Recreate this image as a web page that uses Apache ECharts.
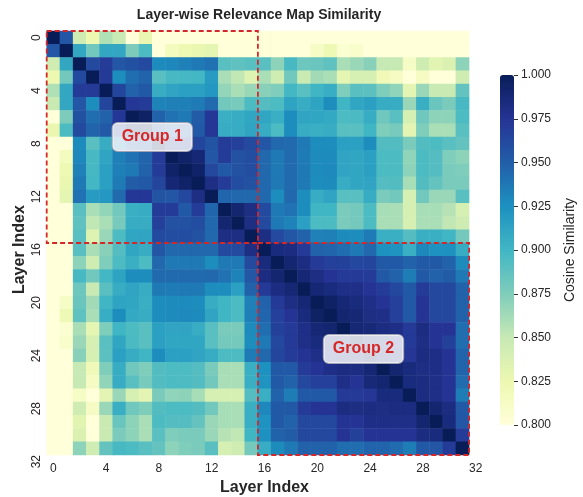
<!DOCTYPE html>
<html>
<head>
<meta charset="utf-8">
<title>Layer-wise Relevance Map Similarity</title>
<script src="https://cdn.jsdelivr.net/npm/echarts@6/dist/echarts.min.js"></script>
<style>
  html, body { margin: 0; padding: 0; background: #fff; }
  #main { width: 583px; height: 497px; }
</style>
</head>
<body>
<div id="main"></div>
<script>
// layer labels; '32' is only a tick label, it has no row/column of its own
var layerLabels = ['0', '1', '2', '3', '4', '5', '6', '7', '8', '9', '10', '11', '12', '13', '14', '15', '16',
  '17', '18', '19', '20', '21', '22', '23', '24', '25', '26', '27', '28', '29', '30', '31', '32'];

// cosine similarity, one row per layer
var simRows = [
  [1, .955, .845, .825, .858, .848, .80, .826, .79, .79, .79, .79, .79, .79, .79, .79, .79, .79, .79, .79, .79, .79, .79, .79, .79, .79, .79, .79, .79, .79, .79, .79],
  [.955, 1, .91, .88, .91, .91, .876, .895, .80, .816, .823, .827, .83, .79, .79, .79, .80, .80, .80, .80, .812, .822, .805, .808, .79, .79, .79, .79, .79, .79, .79, .80],
  [.845, .91, 1, .962, .97, .955, .958, .962, .928, .93, .933, .937, .94, .89, .888, .89, .89, .87, .897, .882, .884, .888, .86, .866, .872, .85, .85, .812, .845, .832, .837, .87],
  [.825, .88, .962, 1, .972, .927, .942, .947, .89, .897, .898, .899, .918, .86, .852, .835, .86, .845, .88, .848, .863, .86, .83, .84, .84, .82, .813, .80, .813, .80, .80, .845],
  [.858, .91, .97, .972, 1, .965, .948, .953, .907, .912, .915, .915, .92, .868, .86, .866, .872, .875, .899, .89, .901, .906, .875, .89, .889, .875, .869, .831, .866, .848, .848, .886],
  [.848, .91, .955, .927, .965, 1, .973, .97, .932, .934, .934, .936, .944, .88, .878, .895, .892, .895, .913, .907, .913, .927, .901, .911, .915, .907, .907, .866, .905, .884, .877, .897],
  [.80, .876, .958, .942, .948, .973, 1, .995, .948, .94, .937, .951, .973, .905, .907, .911, .911, .905, .927, .912, .911, .909, .895, .896, .907, .881, .89, .84, .881, .87, .87, .895],
  [.826, .895, .962, .947, .953, .97, .995, 1, .957, .947, .948, .953, .973, .907, .907, .912, .907, .895, .927, .907, .905, .907, .89, .89, .901, .875, .878, .831, .875, .86, .86, .89],
  [.79, .80, .928, .89, .907, .932, .948, .957, 1, .97, .97, .965, .956, .97, .968, .962, .955, .945, .944, .937, .927, .927, .915, .915, .927, .893, .893, .877, .893, .895, .89, .886],
  [.79, .816, .93, .897, .912, .934, .94, .947, .97, 1, .993, .988, .955, .97, .957, .96, .945, .937, .944, .936, .928, .928, .912, .911, .915, .895, .895, .869, .895, .892, .875, .87],
  [.79, .823, .933, .898, .915, .934, .937, .948, .97, .993, 1, .993, .963, .953, .957, .96, .945, .937, .944, .937, .928, .929, .912, .911, .915, .895, .895, .87, .895, .892, .877, .875],
  [.79, .827, .937, .899, .915, .936, .951, .953, .965, .988, .993, 1, .982, .97, .96, .957, .945, .937, .944, .937, .927, .928, .907, .911, .912, .892, .893, .861, .893, .886, .877, .877],
  [.79, .83, .94, .918, .92, .944, .973, .973, .956, .955, .963, .982, 1, .946, .945, .945, .945, .927, .945, .927, .907, .912, .89, .89, .907, .877, .88, .84, .88, .866, .866, .89],
  [.79, .79, .89, .86, .868, .88, .905, .907, .97, .97, .953, .97, .946, 1, .99, .982, .962, .937, .94, .927, .901, .901, .877, .879, .895, .861, .86, .84, .861, .861, .856, .84],
  [.79, .79, .888, .852, .86, .878, .907, .907, .968, .957, .957, .96, .945, .99, 1, .982, .962, .937, .932, .915, .895, .895, .877, .879, .895, .86, .86, .84, .86, .86, .852, .845],
  [.79, .79, .89, .835, .866, .895, .911, .912, .962, .96, .96, .957, .945, .982, .982, 1, .982, .962, .955, .948, .933, .934, .928, .927, .936, .905, .905, .892, .905, .905, .901, .879],
  [.79, .80, .89, .86, .872, .892, .911, .907, .955, .945, .945, .945, .945, .962, .962, .982, 1, .985, .983, .972, .948, .946, .942, .937, .945, .925, .923, .905, .93, .924, .925, .907],
  [.79, .80, .87, .845, .875, .895, .905, .895, .945, .937, .937, .937, .927, .937, .937, .962, .985, 1, .99, .983, .972, .968, .967, .963, .965, .953, .953, .948, .953, .953, .948, .928],
  [.79, .80, .897, .88, .899, .913, .927, .927, .944, .944, .944, .944, .945, .94, .932, .955, .983, .99, 1, .988, .982, .975, .972, .972, .97, .953, .948, .935, .953, .948, .951, .937],
  [.79, .80, .882, .848, .89, .907, .912, .907, .937, .936, .937, .937, .927, .927, .915, .948, .972, .983, .988, 1, .988, .985, .98, .98, .975, .97, .963, .953, .97, .963, .963, .948],
  [.79, .812, .884, .863, .901, .913, .911, .905, .927, .928, .928, .927, .907, .901, .895, .933, .948, .972, .982, .988, 1, .995, .988, .985, .98, .975, .968, .953, .975, .963, .963, .948],
  [.79, .822, .888, .86, .906, .927, .909, .907, .927, .928, .929, .928, .912, .901, .895, .934, .946, .968, .975, .985, .995, 1, .99, .988, .982, .98, .968, .953, .975, .963, .963, .948],
  [.79, .805, .86, .83, .875, .901, .895, .89, .915, .912, .912, .907, .89, .877, .877, .928, .942, .967, .972, .98, .988, .99, 1, .988, .987, .983, .98, .972, .983, .975, .975, .942],
  [.79, .808, .866, .84, .89, .911, .896, .89, .915, .911, .911, .911, .89, .879, .879, .927, .937, .963, .972, .98, .985, .988, .988, 1, .986, .983, .975, .972, .982, .975, .967, .942],
  [.79, .79, .872, .84, .889, .915, .907, .901, .927, .915, .915, .912, .907, .895, .895, .936, .945, .965, .97, .975, .98, .982, .987, .986, 1, .988, .987, .974, .983, .981, .975, .947],
  [.79, .79, .85, .82, .875, .907, .881, .875, .893, .895, .895, .892, .877, .861, .86, .905, .925, .953, .953, .97, .975, .98, .983, .983, .988, 1, .99, .985, .982, .981, .975, .947],
  [.79, .79, .85, .813, .869, .907, .89, .878, .893, .895, .895, .893, .88, .86, .86, .905, .923, .953, .948, .963, .968, .968, .98, .975, .987, .99, 1, .985, .983, .98, .975, .943],
  [.79, .79, .812, .80, .831, .866, .84, .831, .877, .869, .87, .861, .84, .84, .84, .892, .905, .948, .935, .953, .953, .953, .972, .972, .974, .985, .985, 1, .983, .98, .975, .935],
  [.79, .79, .845, .813, .866, .905, .881, .875, .893, .895, .895, .893, .88, .861, .86, .905, .93, .953, .953, .97, .975, .975, .983, .982, .983, .982, .983, .983, 1, .99, .983, .953],
  [.79, .79, .832, .80, .848, .884, .87, .86, .895, .892, .892, .886, .866, .861, .86, .905, .924, .953, .948, .963, .963, .963, .975, .975, .981, .981, .98, .98, .99, 1, .985, .955],
  [.79, .79, .837, .80, .848, .877, .87, .86, .89, .875, .877, .877, .866, .856, .852, .901, .925, .948, .951, .963, .963, .963, .975, .967, .975, .975, .975, .975, .983, .985, 1, .97],
  [.79, .80, .87, .845, .886, .897, .895, .89, .886, .87, .875, .877, .89, .84, .845, .879, .907, .928, .937, .948, .948, .948, .942, .942, .947, .947, .943, .935, .953, .955, .97, 1]
];

// first / last layer of each highlighted block
var groupBoxes = [[0, 15], [16, 31]];
var groupNames = ['Group 1', 'Group 2'];

// colour bar range
var colorMin = 0.8;
var colorMax = 1.0;
var colorStep = 0.025;

// matplotlib YlGnBu
var ylGnBu = ['#ffffd9', '#edf8b1', '#c7e9b4', '#7fcdbb', '#41b6c4', '#1d91c0', '#225ea8', '#253494', '#081d58'];

var FONT = '"Liberation Sans", Arial, Helvetica, sans-serif';
var TXT = '#262626';
var RED = '#d62728';

var cells = [];
simRows.forEach(function (row, y) {
  row.forEach(function (v, x) {
    cells.push([x, y, v]);
  });
});

var chart = echarts.init(document.getElementById('main'), null, { renderer: 'canvas' });

var option = {
  animation: false,
  backgroundColor: '#fff',
  title: {
    text: 'Layer-wise Relevance Map Similarity',
    left: 259,
    top: 8,
    padding: 0,
    textAlign: 'center',
    textStyle: { fontFamily: FONT, fontSize: 14, fontWeight: 'bold', color: TXT }
  },
  grid: [
    // 33 bands so that the '32' tick sits half a cell past the last column
    { left: 46.7, top: 31, width: 435.6, height: 437.25, outerBoundsMode: 'none' },
    // scale of the colour bar
    { left: 500, top: 75, width: 14, height: 350, outerBoundsMode: 'none' }
  ],
  xAxis: [
    {
      type: 'category',
      gridIndex: 0,
      data: layerLabels,
      offset: -13.25,
      axisLine: { show: false },
      axisTick: { show: false },
      splitLine: { show: false },
      axisLabel: { interval: 3, margin: 8, fontFamily: FONT, fontSize: 12, color: TXT },
      name: 'Layer Index',
      nameLocation: 'middle',
      nameGap: 25,
      nameMoveOverlap: false,
      nameTextStyle: { fontFamily: FONT, fontSize: 16, fontWeight: 'bold', color: TXT }
    },
    { type: 'value', gridIndex: 1, show: false, min: -1, max: 0 }
  ],
  yAxis: [
    {
      type: 'category',
      gridIndex: 0,
      data: layerLabels,
      inverse: true,
      axisLine: { show: false },
      axisTick: { show: false },
      splitLine: { show: false },
      axisLabel: { interval: 3, rotate: 90, margin: 4, fontFamily: FONT, fontSize: 12, color: TXT },
      name: 'Layer Index',
      nameLocation: 'middle',
      nameGap: 19,
      nameMoveOverlap: false,
      nameTextStyle: { fontFamily: FONT, fontSize: 16, fontWeight: 'bold', color: TXT }
    },
    {
      type: 'value',
      gridIndex: 1,
      position: 'right',
      z: 10,
      min: colorMin,
      max: colorMax,
      interval: colorStep,
      axisLine: { show: false, onZero: false },
      axisTick: { show: true, inside: false, length: 4, lineStyle: { color: '#333', width: 1 } },
      splitLine: { show: false },
      axisLabel: {
        margin: 7,
        fontFamily: FONT,
        fontSize: 12,
        color: TXT,
        formatter: function (v) { return v.toFixed(3); }
      },
      name: 'Cosine Similarity',
      nameLocation: 'middle',
      nameRotate: 90,
      nameGap: 49,
      nameMoveOverlap: false,
      nameTextStyle: { fontFamily: FONT, fontSize: 14, color: TXT }
    }
  ],
  visualMap: {
    type: 'continuous',
    seriesIndex: 0,
    min: colorMin,
    max: colorMax,
    calculable: false,
    hoverLink: false,
    orient: 'vertical',
    left: 500,
    top: 75,
    padding: 0,
    itemWidth: 14,
    itemHeight: 350,
    text: null,
    inRange: { color: ylGnBu },
    outOfRange: { color: ['#ffffd9'] }
  },
  series: [
    {
      type: 'heatmap',
      xAxisIndex: 0,
      yAxisIndex: 0,
      data: cells,
      itemStyle: { borderWidth: 0 },
      emphasis: { disabled: true },
      progressive: 0
    },
    {
      type: 'custom',
      xAxisIndex: 0,
      yAxisIndex: 0,
      data: groupBoxes,
      encode: { x: 0, y: 1 },
      silent: true,
      z: 5,
      renderItem: function (params, api) {
        var a = api.value(0), b = api.value(1);
        var p0 = api.coord([a, a]);
        var p1 = api.coord([b, b]);
        var s = api.size([1, 1]);
        var x0 = p0[0] - s[0] / 2, y0 = p0[1] - s[1] / 2;
        var x1 = p1[0] + s[0] / 2, y1 = p1[1] + s[1] / 2;
        return {
          type: 'group',
          children: [
            {
              type: 'rect',
              shape: { x: x0, y: y0, width: x1 - x0, height: y1 - y0 },
              style: { fill: null, stroke: RED, lineWidth: 1.8, lineDash: [5, 3] }
            },
            {
              type: 'text',
              x: (x0 + x1) / 2,
              y: (y0 + y1) / 2,
              style: {
                text: groupNames[params.dataIndex],
                fill: RED,
                fontFamily: FONT,
                fontSize: 16,
                fontWeight: 'bold',
                align: 'center',
                verticalAlign: 'middle',
                backgroundColor: 'rgba(255,255,255,0.82)',
                borderColor: '#9ea2b4',
                borderWidth: 1,
                borderRadius: 5,
                padding: [6, 9]
              }
            }
          ]
        };
      }
    }
  ]
};

chart.setOption(option);
</script>
</body>
</html>
